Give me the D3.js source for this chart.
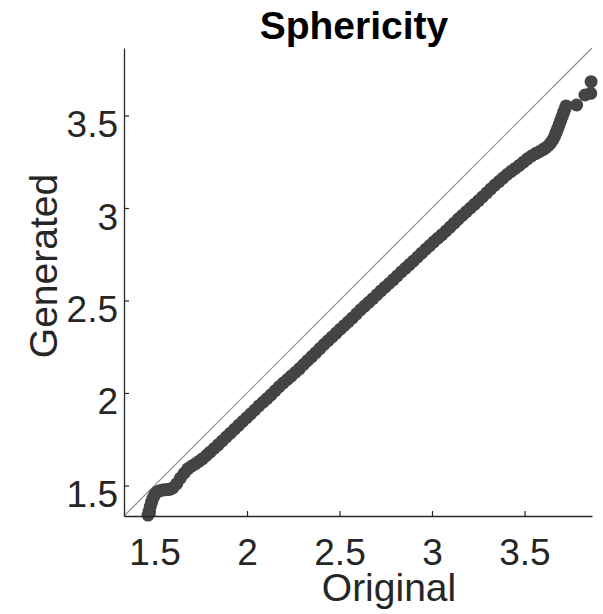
<!DOCTYPE html>
<html>
<head>
<meta charset="utf-8">
<script src="https://cdn.jsdelivr.net/npm/d3@7"></script>
<style>
  html, body { margin: 0; padding: 0; background: #fff; }
  svg text { font-family: "Liberation Sans", Arial, Helvetica, sans-serif; }
</style>
</head>
<body>
<svg id="chart" width="603" height="614"></svg>
<script>
// Quantiles of the original sphericity values (x) and of the generated ones (y)
const original = [
  1.465, 1.471, 1.477, 1.484, 1.492, 1.502, 1.514, 1.528, 1.543, 1.558, 1.573, 1.588,
  1.600, 1.620, 1.640, 1.660, 1.680, 1.700, 1.720, 1.740, 1.760, 1.780, 1.800, 1.822,
  1.844, 1.866, 1.888, 1.910, 1.932, 1.954, 1.976, 1.998, 2.020, 2.042, 2.064, 2.086,
  2.108, 2.130, 2.152, 2.174, 2.196, 2.218, 2.240, 2.262, 2.284, 2.306, 2.328, 2.350,
  2.372, 2.394, 2.416, 2.438, 2.460, 2.482, 2.504, 2.526, 2.548, 2.570, 2.592, 2.614,
  2.636, 2.658, 2.680, 2.702, 2.724, 2.746, 2.768, 2.790, 2.812, 2.834, 2.856, 2.878,
  2.900, 2.922, 2.944, 2.966, 2.988, 3.010, 3.032, 3.054, 3.076, 3.098, 3.120, 3.142,
  3.164, 3.186, 3.208, 3.230, 3.252, 3.274, 3.296, 3.318, 3.340, 3.362, 3.384, 3.406,
  3.428, 3.450, 3.472, 3.494, 3.516, 3.538, 3.560, 3.580, 3.600, 3.615, 3.630, 3.642,
  3.654, 3.664, 3.672, 3.680, 3.688, 3.696, 3.704, 3.712, 3.719, 3.725,
  3.782, 3.827, 3.858, 3.860
];
const generated = [
  1.340, 1.362, 1.386, 1.410, 1.432, 1.452, 1.465, 1.472, 1.475, 1.477, 1.478, 1.481,
  1.488, 1.510, 1.540, 1.566, 1.590, 1.604, 1.616, 1.630, 1.645, 1.662, 1.680, 1.700,
  1.720, 1.741, 1.762, 1.783, 1.804, 1.825, 1.846, 1.866, 1.887, 1.908, 1.930, 1.950,
  1.970, 1.990, 2.012, 2.034, 2.054, 2.073, 2.092, 2.112, 2.132, 2.154, 2.176, 2.197,
  2.218, 2.240, 2.262, 2.283, 2.303, 2.324, 2.345, 2.365, 2.385, 2.406, 2.428, 2.450,
  2.470, 2.490, 2.510, 2.531, 2.552, 2.572, 2.592, 2.612, 2.633, 2.654, 2.674, 2.694,
  2.714, 2.735, 2.756, 2.777, 2.797, 2.817, 2.837, 2.856, 2.876, 2.897, 2.918, 2.940,
  2.960, 2.980, 3.000, 3.020, 3.040, 3.061, 3.082, 3.103, 3.124, 3.143, 3.162, 3.181,
  3.198, 3.214, 3.230, 3.248, 3.266, 3.281, 3.294, 3.304, 3.316, 3.326, 3.338, 3.352,
  3.370, 3.390, 3.410, 3.430, 3.452, 3.474, 3.496, 3.518, 3.536, 3.552,
  3.557, 3.611, 3.620, 3.683
];
const axisRange = [1.335, 3.865];
const tickValues = [1.5, 2, 2.5, 3, 3.5];
const tickLabels = ["1.5", "2", "2.5", "3", "3.5"];
const titleText = "Sphericity";
const xLabelText = "Original";
const yLabelText = "Generated";

const svg = d3.select("#chart");
const plotLeft = 124, plotRight = 592, plotTop = 48, plotBottom = 516;
const axisColor = "#262626";

const x = d3.scaleLinear().domain(axisRange).range([plotLeft, plotRight]);
const y = d3.scaleLinear().domain(axisRange).range([plotBottom, plotTop]);

// reference line y = x
svg.append("line")
  .attr("x1", x(axisRange[0])).attr("y1", y(axisRange[0]))
  .attr("x2", x(axisRange[1])).attr("y2", y(axisRange[1]))
  .attr("stroke", "#8c8c8c").attr("stroke-width", 1.2);

// quantile pairs
const pts = original.map((o, i) => ({ o, g: generated[i] }));
svg.append("g").selectAll("circle").data(pts).join("circle")
  .attr("cx", d => x(d.o)).attr("cy", d => y(d.g)).attr("r", 6.5)
  .attr("fill", "#444444");

// axes with inward ticks
const fmt = (d) => tickLabels[tickValues.indexOf(d)];
const xAxis = svg.append("g").attr("transform", `translate(0,${plotBottom})`)
  .call(d3.axisBottom(x).tickValues(tickValues).tickFormat(fmt).tickSizeInner(-5).tickSizeOuter(0).tickPadding(0));
const yAxis = svg.append("g").attr("transform", `translate(${plotLeft},0)`)
  .call(d3.axisLeft(y).tickValues(tickValues).tickFormat(fmt).tickSizeInner(-5).tickSizeOuter(0).tickPadding(0));

[xAxis, yAxis].forEach(a => {
  a.select(".domain").attr("stroke", axisColor).attr("stroke-width", 1.3);
  a.selectAll(".tick line").attr("stroke", axisColor).attr("stroke-width", 1.2);
  a.selectAll(".tick text").attr("fill", axisColor).style("font-size", "37px")
    .style("font-family", "'Liberation Sans', Arial, sans-serif");
});
xAxis.selectAll(".tick text").attr("dy", null).attr("y", 49);
yAxis.selectAll(".tick text").attr("dy", null).attr("x", -6).attr("y", 21);

// title and axis labels
svg.append("text").attr("x", 354).attr("y", 39).attr("text-anchor", "middle")
  .attr("fill", "#000").style("font-size", "39px").style("font-weight", "bold")
  .text(titleText);
svg.append("text").attr("x", 389).attr("y", 601).attr("text-anchor", "middle")
  .attr("fill", axisColor).style("font-size", "39px").text(xLabelText);
svg.append("text").attr("transform", "translate(57,266) rotate(-90)")
  .attr("text-anchor", "middle").attr("fill", axisColor).style("font-size", "39px")
  .text(yLabelText);
</script>
</body>
</html>
